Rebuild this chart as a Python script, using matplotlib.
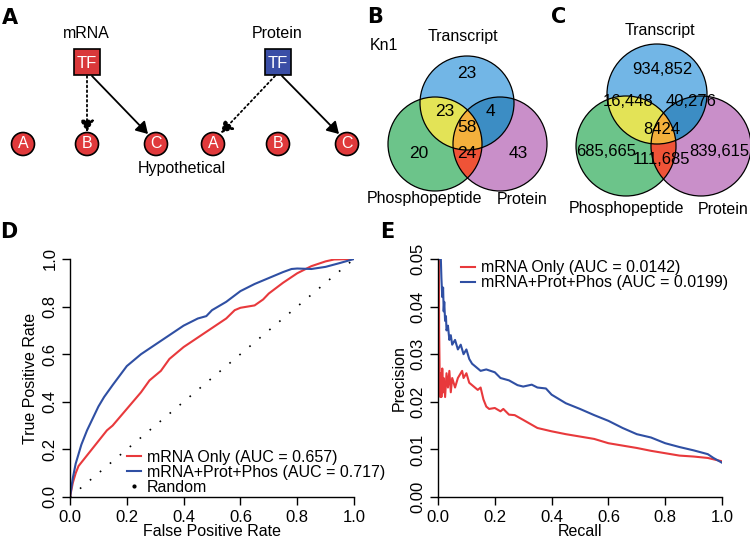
import numpy as np
import matplotlib
matplotlib.use("Agg")
import matplotlib.pyplot as plt
from matplotlib.patches import Circle, Rectangle, Polygon
from matplotlib.lines import Line2D

plt.rcParams['font.family'] = ['Liberation Sans', 'DejaVu Sans']

# ---- data ----
# panel B / C venn counts, order: T, T&Ph, T&P, all, Ph, Ph&P, P
kn1_counts = ['23', '23', '4', '58', '20', '24', '43']
all_counts = ['934,852', '16,448', '40,276', '8424', '685,665', '111,685', '839,615']
venn_sets = ['Transcript', 'Phosphopeptide', 'Protein']

# panel D ROC curves
roc_fpr_mrna = [0.0, 0.01, 0.02, 0.03, 0.05, 0.07, 0.1, 0.13, 0.15, 0.2, 0.25, 0.28, 0.3, 0.32,
                0.35, 0.4, 0.45, 0.5, 0.55, 0.58, 0.6, 0.65, 0.68, 0.7, 0.75, 0.8, 0.85, 0.9, 0.93, 1.0]
roc_tpr_mrna = [0.0, 0.06, 0.10, 0.13, 0.16, 0.19, 0.235, 0.28, 0.30, 0.37, 0.44, 0.49, 0.51, 0.53,
                0.58, 0.63, 0.67, 0.71, 0.75, 0.785, 0.795, 0.805, 0.83, 0.855, 0.90, 0.94, 0.97, 0.99, 0.998, 1.0]
roc_fpr_all = [0.0, 0.01, 0.02, 0.04, 0.06, 0.08, 0.1, 0.12, 0.15, 0.2, 0.25, 0.3, 0.35, 0.4,
               0.45, 0.48, 0.5, 0.55, 0.6, 0.65, 0.7, 0.75, 0.78, 0.8, 0.85, 0.9, 0.95, 1.0]
roc_tpr_all = [0.0, 0.08, 0.14, 0.22, 0.28, 0.33, 0.38, 0.42, 0.47, 0.55, 0.60, 0.64, 0.68, 0.72,
               0.75, 0.76, 0.785, 0.82, 0.865, 0.895, 0.92, 0.945, 0.958, 0.96, 0.958, 0.967, 0.983, 1.0]

# panel E precision-recall curves
pr_rec_mrna = [0.003, 0.004, 0.006, 0.008, 0.01, 0.012, 0.015, 0.018, 0.02, 0.025, 0.03, 0.035, 0.04,
               0.045, 0.05, 0.06, 0.07, 0.08, 0.085, 0.09, 0.1, 0.11, 0.12, 0.13, 0.14, 0.15, 0.16,
               0.17, 0.18, 0.2, 0.22, 0.23, 0.25, 0.27, 0.3, 0.35, 0.4, 0.45, 0.5, 0.55, 0.6, 0.65,
               0.7, 0.75, 0.8, 0.85, 0.9, 0.95, 1.0]
pr_prec_mrna = [0.050, 0.035, 0.025, 0.021, 0.026, 0.021, 0.027, 0.022, 0.025, 0.021, 0.026, 0.023,
                0.0265, 0.022, 0.025, 0.023, 0.025, 0.026, 0.0265, 0.025, 0.026, 0.024, 0.0235, 0.023,
                0.0225, 0.023, 0.0205, 0.019, 0.0185, 0.0187, 0.018, 0.0185, 0.0173, 0.0172, 0.0162,
                0.0145, 0.0138, 0.0132, 0.0127, 0.0122, 0.0113, 0.0108, 0.0103, 0.0097, 0.0092,
                0.0087, 0.0085, 0.0082, 0.0075]
pr_rec_all = [0.005, 0.01, 0.012, 0.015, 0.018, 0.02, 0.022, 0.025, 0.028, 0.03, 0.035, 0.04, 0.045,
              0.05, 0.06, 0.07, 0.08, 0.09, 0.1, 0.11, 0.12, 0.14, 0.15, 0.17, 0.2, 0.22, 0.25, 0.28,
              0.3, 0.33, 0.35, 0.38, 0.4, 0.45, 0.5, 0.55, 0.6, 0.65, 0.7, 0.75, 0.8, 0.85, 0.9,
              0.95, 0.97, 1.0]
pr_prec_all = [0.050, 0.050, 0.046, 0.042, 0.044, 0.039, 0.041, 0.037, 0.038, 0.035, 0.036, 0.033,
               0.034, 0.032, 0.033, 0.031, 0.032, 0.030, 0.031, 0.029, 0.028, 0.027, 0.0265, 0.0268,
               0.0262, 0.025, 0.0245, 0.0235, 0.0232, 0.0236, 0.023, 0.0228, 0.0215, 0.0197, 0.0185,
               0.0172, 0.016, 0.0145, 0.0132, 0.0125, 0.0113, 0.0105, 0.0098, 0.009, 0.0082, 0.0072]

red = '#e8393c'
blue = '#2f4fa3'
fs = 11.5

fig = plt.figure(figsize=(7.5, 5.43), dpi=100)

# overlay axes in pixel coordinates for panels A-C
ov = fig.add_axes([0, 0, 1, 1])
ov.set_xlim(0, 750)
ov.set_ylim(543, 0)
ov.axis('off')

letter_font = dict(fontsize=15, fontweight='bold', family=['Liberation Sans Narrow', 'DejaVu Sans'],
                   ha='center', va='center')
for lab, (x, y) in zip('ABCDE', [(10, 18), (375, 17), (559, 17), (9, 232), (387, 232)]):
    ov.text(x, y, lab, **letter_font)

# ---- panel A ----
def node(x, y, lab):
    ov.add_patch(Circle((x, y), 11.5, fc='#e0393b', ec='black', lw=1.2, zorder=3))
    ov.text(x, y, lab, color='white', fontsize=fs, ha='center', va='center', zorder=4)

def tf_box(x, y, col):
    ov.add_patch(Rectangle((x - 13, y - 13), 26, 26, fc=col, ec='black', lw=1.2, zorder=3))
    ov.text(x, y + 1, 'TF', color='white', fontsize=12, ha='center', va='center', zorder=4)

for x, lab in zip([23, 87, 156, 213, 278, 347], ['A', 'B', 'C', 'A', 'B', 'C']):
    node(x, 144, lab)
tf_box(87, 62, '#d9383a')
tf_box(278, 62, '#3a4ea6')
ov.text(86, 34, 'mRNA', fontsize=fs, ha='center', va='center')
ov.text(277, 34, 'Protein', fontsize=fs, ha='center', va='center')
ov.text(182, 169, 'Hypothetical', fontsize=fs, ha='center', va='center')

arw = dict(arrowstyle='-|>,head_length=0.5,head_width=0.3', color='black', lw=1.3,
           mutation_scale=14, shrinkA=0, shrinkB=0)
ov.annotate('', xy=(87, 132), xytext=(87, 76), arrowprops=dict(arw, linestyle=':'))
ov.annotate('', xy=(148, 134), xytext=(92, 76), arrowprops=arw)
ov.annotate('', xy=(221, 133), xytext=(275, 76), arrowprops=dict(arw, linestyle=':'))
ov.annotate('', xy=(339, 134), xytext=(282, 76), arrowprops=arw)

# ---- panels B, C: venn ----
def region(centers, r, idx):
    th = np.linspace(0, 2 * np.pi, 721)
    pts = []
    for i in idx:
        cx, cy = centers[i]
        p = np.column_stack([cx + r * np.cos(th), cy + r * np.sin(th)])
        ok = np.ones(len(p), bool)
        for j in idx:
            if j != i:
                ok &= np.hypot(p[:, 0] - centers[j][0], p[:, 1] - centers[j][1]) <= r + 1e-9
        pts.append(p[ok])
    pts = np.vstack(pts)
    c = pts.mean(axis=0)
    order = np.argsort(np.arctan2(pts[:, 1] - c[1], pts[:, 0] - c[0]))
    return pts[order]

def venn(centers, r, counts, pos, nfs, lab_pos):
    cols = ['#72b6e6', '#6cc48a', '#c98fc9']
    for c, col in zip(centers, cols):
        ov.add_patch(Circle(c, r, fc=col, ec='none'))
    for idx, col in [((0, 1), '#e3e356'), ((0, 2), '#3c8dc4'), ((1, 2), '#ef5337'),
                     ((0, 1, 2), '#f4b03c')]:
        ov.add_patch(Polygon(region(centers, r, idx), closed=True, fc=col, ec='none'))
    for c in centers:
        ov.add_patch(Circle(c, r, fc='none', ec='black', lw=0.9))
    for txt, (x, y) in zip(counts, pos):
        ov.text(x, y, txt, fontsize=nfs, ha='center', va='center')
    for txt, (x, y) in zip(venn_sets, lab_pos):
        ov.text(x, y, txt, fontsize=fs, ha='center', va='center')

cb = [(467, 103), (435, 144), (500, 144)]
venn(cb, 47, kn1_counts,
     [(467, 74), (445, 111), (490, 111), (467, 128), (419, 153), (467, 153), (518, 153)], 12.5,
     [(463, 37), (425, 199), (522, 199)])
ov.text(384, 45, 'Kn1', fontsize=fs, ha='center', va='center')

cc = [(657, 94), (626, 146), (701, 146)]
venn(cc, 50, all_counts,
     [(662, 70), (628, 101), (691, 101), (662, 129), (606, 152), (661, 159), (719, 152)], 12,
     [(660, 31), (627, 209), (723, 209)])

# ---- panel D ----
def r_axes(rect):
    ax = fig.add_axes(rect)
    ax.set_xlim(0, 1)
    for s in ['top', 'right']:
        ax.spines[s].set_visible(False)
    for s in ['left', 'bottom']:
        ax.spines[s].set_linewidth(1.0)
    ax.tick_params(direction='out', length=6, width=1.0, labelsize=12, pad=3)
    ax.tick_params(axis='y', labelrotation=90, pad=3)
    ax.patch.set_visible(False)
    return ax

axd = r_axes([70 / 750, 46 / 543, 284 / 750, 238 / 543])
axd.set_ylim(0, 1)
axd.plot([0, 1], [0, 1], color='black', lw=1.2, ls=(0, (1, 6.8)))
axd.plot(roc_fpr_mrna, roc_tpr_mrna, color=red, lw=1.5)
axd.plot(roc_fpr_all, roc_tpr_all, color=blue, lw=1.5)
axd.set_xticks(np.arange(0, 1.01, 0.2))
axd.set_yticks(np.arange(0, 1.01, 0.2))
axd.set_xticklabels(['0.0', '0.2', '0.4', '0.6', '0.8', '1.0'])
axd.set_yticklabels(['0.0', '0.2', '0.4', '0.6', '0.8', '1.0'], va='center')
axd.set_xlabel('False Positive Rate', fontsize=fs, labelpad=0)
axd.set_ylabel('True Positive Rate', fontsize=fs, labelpad=3)
hd = [Line2D([], [], color=red, lw=1.5), Line2D([], [], color=blue, lw=1.5),
      Line2D([], [], color='black', ls='none', marker='.', ms=4)]
axd.legend(hd, ['mRNA Only (AUC = 0.657)', 'mRNA+Prot+Phos (AUC = 0.717)', 'Random'],
           loc='lower left', bbox_to_anchor=(0.2, 0.01), frameon=False, fontsize=fs,
           handlelength=0.9, handletextpad=0.35, labelspacing=0.0, borderpad=0, borderaxespad=0)

# ---- panel E ----
axe = r_axes([438 / 750, 46 / 543, 284 / 750, 238 / 543])
axe.set_ylim(0, 0.05)
axe.plot(pr_rec_mrna, pr_prec_mrna, color=red, lw=1.5)
axe.plot(pr_rec_all, pr_prec_all, color=blue, lw=1.5)
axe.set_xticks(np.arange(0, 1.01, 0.2))
axe.set_yticks(np.arange(0, 0.051, 0.01))
axe.set_xticklabels(['0.0', '0.2', '0.4', '0.6', '0.8', '1.0'])
axe.set_yticklabels(['0.00', '0.01', '0.02', '0.03', '0.04', '0.05'], va='center')
axe.set_xlabel('Recall', fontsize=fs, labelpad=0)
axe.set_ylabel('Precision', fontsize=fs, labelpad=3)
he = [Line2D([], [], color=red, lw=1.5), Line2D([], [], color=blue, lw=1.5)]
axe.legend(he, ['mRNA Only (AUC = 0.0142)', 'mRNA+Prot+Phos (AUC = 0.0199)'],
           loc='upper left', bbox_to_anchor=(0.08, 0.995), frameon=False, fontsize=fs,
           handlelength=0.9, handletextpad=0.35, labelspacing=0.0, borderpad=0, borderaxespad=0)

fig.savefig('out.png', dpi=100)
